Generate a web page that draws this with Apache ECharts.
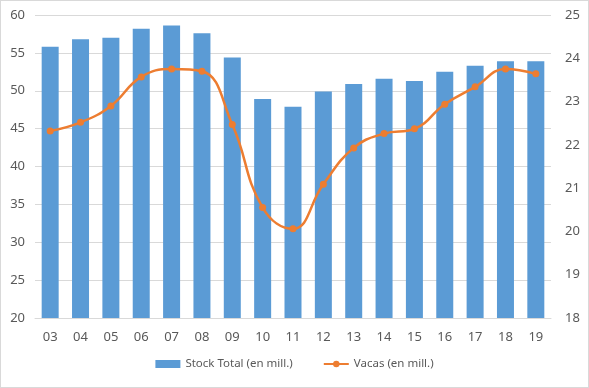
<!DOCTYPE html>
<html><head><meta charset="utf-8">
<script src="https://cdn.jsdelivr.net/npm/echarts@6/dist/echarts.min.js"></script>
<style>html,body{margin:0;padding:0;background:#fff;}#c{width:587px;height:386px;border:1px solid #d9d9d9;}</style>
</head><body><div id="c"></div>
<script>
const categories = ['03','04','05','06','07','08','09','10','11','12','13','14','15','16','17','18','19'];
const stockTotal = [55.8,56.8,57.0,58.2,58.6,57.6,54.4,48.9,47.9,49.9,50.9,51.6,51.3,52.5,53.3,53.9,53.9];
const vacas = [22.32,22.52,22.90,23.57,23.75,23.70,22.47,20.55,20.06,21.09,21.93,22.26,22.37,22.94,23.34,23.75,23.64];
const font = 'Noto Sans';
const chart = echarts.init(document.getElementById('c'));
chart.setOption({
  animation:false,
  textStyle:{fontFamily:font},
  grid:{left:34,right:37,top:14,bottom:69},
  legend:{bottom:12,left:'center',itemGap:30,textStyle:{color:'#595959',fontSize:11.5,fontFamily:font},
    data:[{name:'Stock Total (en mill.)',icon:'rect'},{name:'Vacas (en mill.)'}],itemWidth:25,itemHeight:8},
  xAxis:{type:'category',data:categories,axisTick:{show:false},axisLine:{lineStyle:{color:'#d9d9d9'}},
    axisLabel:{color:'#595959',fontSize:13,margin:13,fontFamily:font}},
  yAxis:[
    {type:'value',min:20,max:60,interval:5,axisLine:{show:false},axisTick:{show:false},
     splitLine:{lineStyle:{color:'#d9d9d9'}},axisLabel:{color:'#595959',fontSize:13,margin:10,fontFamily:font}},
    {type:'value',min:18,max:25,interval:1,axisLine:{show:false},axisTick:{show:false},
     splitLine:{show:false},axisLabel:{color:'#595959',fontSize:13,margin:14,fontFamily:font}}
  ],
  series:[
    {name:'Stock Total (en mill.)',type:'bar',data:stockTotal,barWidth:'56%',itemStyle:{color:'#5B9BD5'}},
    {name:'Vacas (en mill.)',type:'line',yAxisIndex:1,data:vacas,smooth:0.45,symbol:'circle',symbolSize:7,
     lineStyle:{color:'#ED7D31',width:2.5},itemStyle:{color:'#ED7D31'}}
  ]
});
</script></body></html>
